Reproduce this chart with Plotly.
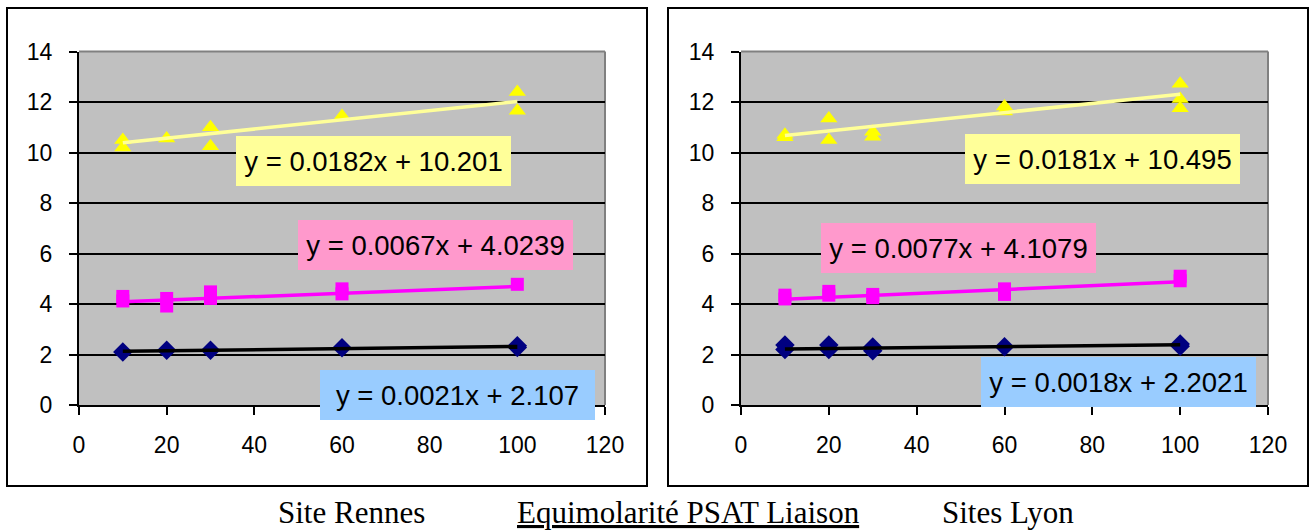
import plotly.graph_objects as go

W, H = 1314, 531

# ---------------- data ----------------
x_ticks = [0, 20, 40, 60, 80, 100, 120]
y_ticks = [0, 2, 4, 6, 8, 10, 12, 14]

# Site Rennes
rennes_yellow_x = [10, 10, 20, 30, 30, 60, 100, 100]
rennes_yellow_y = [10.5, 10.2, 10.55, 11.0, 10.25, 11.45, 12.4, 11.65]
rennes_pink_x = [10, 10, 20, 20, 30, 30, 60, 60, 100]
rennes_pink_y = [4.3, 4.12, 4.22, 3.92, 4.48, 4.22, 4.6, 4.4, 4.78]
rennes_navy_x = [10, 20, 30, 60, 100, 100]
rennes_navy_y = [2.1, 2.17, 2.17, 2.27, 2.28, 2.35]
rennes_slopes = [0.0182, 0.0067, 0.0021]
rennes_intercepts = [10.201, 4.0239, 2.107]

# Sites Lyon
lyon_yellow_x = [10, 10, 20, 20, 30, 30, 60, 60, 100, 100, 100]
lyon_yellow_y = [10.7, 10.6, 11.35, 10.5, 10.82, 10.62, 11.82, 11.62, 12.72, 12.12, 11.75]
lyon_pink_x = [10, 10, 20, 20, 30, 30, 60, 60, 100, 100]
lyon_pink_y = [4.35, 4.2, 4.5, 4.35, 4.38, 4.25, 4.6, 4.38, 5.1, 4.92]
lyon_navy_x = [10, 10, 20, 20, 30, 30, 60, 100, 100]
lyon_navy_y = [2.38, 2.2, 2.38, 2.2, 2.3, 2.15, 2.31, 2.42, 2.33]
lyon_slopes = [0.0181, 0.0077, 0.0018]
lyon_intercepts = [10.495, 4.1079, 2.2021]

trend_range = [10, 100]

footer_left = "Site Rennes"
footer_mid = "Equimolarité PSAT Liaison"
footer_right = "Sites Lyon"

# ---------------- helpers ----------------
def px(x):
    return x / W

def py(y):
    return 1 - y / H

marker_styles = [
    dict(symbol="triangle-up", color="#FFFF00", size=15),
    dict(symbol="square", color="#FF00FF", size=13),
    dict(symbol="diamond", color="#000080", size=15),
]
line_colors = ["#FFFF99", "#FF00FF", "#000000"]
eq_bg = ["#FFFF99", "#FF99CC", "#99CCFF"]

fig = go.Figure()

sites = [
    ("x", "y",
     [(rennes_yellow_x, rennes_yellow_y), (rennes_pink_x, rennes_pink_y), (rennes_navy_x, rennes_navy_y)],
     rennes_slopes, rennes_intercepts),
    ("x2", "y2",
     [(lyon_yellow_x, lyon_yellow_y), (lyon_pink_x, lyon_pink_y), (lyon_navy_x, lyon_navy_y)],
     lyon_slopes, lyon_intercepts),
]

for xa, ya, series, slopes, inters in sites:
    for i, (sx, sy) in enumerate(series):
        fig.add_trace(go.Scatter(
            x=sx, y=sy, mode="markers", xaxis=xa, yaxis=ya,
            marker=dict(symbol=marker_styles[i]["symbol"], color=marker_styles[i]["color"],
                        size=marker_styles[i]["size"], line=dict(width=0)),
            showlegend=False, hoverinfo="x+y"))
    for i, (m, b) in enumerate(zip(slopes, inters)):
        fig.add_trace(go.Scatter(
            x=trend_range, y=[m * v + b for v in trend_range], mode="lines",
            xaxis=xa, yaxis=ya, line=dict(color=line_colors[i], width=3.5),
            showlegend=False, hoverinfo="skip"))

axis_font = dict(family="Liberation Sans, Arial", size=23, color="#000000")
common_x = dict(range=[0, 120], tickvals=x_ticks, ticks="outside", ticklen=8, tickwidth=2,
                tickcolor="#000000", showline=True, linecolor="#000000", linewidth=2,
                showgrid=False, zeroline=False, tickfont=axis_font, fixedrange=True,
                ticklabelstandoff=10, automargin=False)
common_y = dict(range=[0, 14], tickvals=y_ticks, ticks="outside", ticklen=8, tickwidth=2,
                tickcolor="#000000", showline=True, linecolor="#000000", linewidth=2,
                showgrid=True, gridcolor="#000000", gridwidth=1.5, zeroline=False,
                tickfont=axis_font, fixedrange=True, ticklabelstandoff=12, automargin=False)

y_dom = [py(405), py(51.5)]
fig.update_layout(
    template="none",
    width=W, height=H, margin=dict(l=0, r=0, t=0, b=0, pad=0, autoexpand=False),
    paper_bgcolor="#FFFFFF", plot_bgcolor="#C0C0C0",
    xaxis=dict(domain=[px(79), px(605)], anchor="y", **common_x),
    yaxis=dict(domain=y_dom, anchor="x", **common_y),
    xaxis2=dict(domain=[px(741), px(1268)], anchor="y2", **common_x),
    yaxis2=dict(domain=y_dom, anchor="x2", **common_y),
    showlegend=False,
)

shapes = []
# outer chart boxes
for x0, x1 in [(7, 647), (668, 1308)]:
    shapes.append(dict(type="rect", xref="paper", yref="paper",
                       x0=px(x0), x1=px(x1), y0=py(486), y1=py(8),
                       line=dict(color="#000000", width=2), fillcolor="rgba(0,0,0,0)"))
# grey top & right border of plot areas
for xd, yd in [("x domain", "y domain"), ("x2 domain", "y2 domain")]:
    shapes.append(dict(type="line", xref=xd, yref=yd, x0=0, x1=1, y0=1, y1=1,
                       line=dict(color="#808080", width=2), layer="below"))
    shapes.append(dict(type="line", xref=xd, yref=yd, x0=1, x1=1, y0=0, y1=1,
                       line=dict(color="#808080", width=2), layer="below"))
fig.update_layout(shapes=shapes)

# equation labels
eq_pos = {
    "x": [(373.5, 161), (435.5, 244.5), (457.5, 394.5)],
    "x2": [(1102.5, 158.5), (958.5, 247.5), (1118.5, 382)],
}
eq_font = dict(family="Liberation Sans, Arial", size=27.5, color="#000000")
for xa, ya, series, slopes, inters in sites:
    for i, (m, b) in enumerate(zip(slopes, inters)):
        cx, cy = eq_pos[xa][i]
        fig.add_annotation(
            text=f"y = {m}x + {b}", xref="paper", yref="paper",
            x=px(cx), y=py(cy), xanchor="center", yanchor="middle",
            showarrow=False, bgcolor=eq_bg[i], width=275, height=50,
            borderpad=0, borderwidth=0, font=eq_font, align="center")

footer_font = dict(family="Liberation Serif, Times New Roman", size=31, color="#000000")
for txt, cx in [(footer_left, 351.5), (f"<u>{footer_mid}</u>", 688), (footer_right, 1007.5)]:
    fig.add_annotation(text=txt, xref="paper", yref="paper", x=px(cx), y=0,
                       xanchor="center", yanchor="bottom", showarrow=False, font=footer_font,
                       borderpad=0)

fig.write_html("out.html")
